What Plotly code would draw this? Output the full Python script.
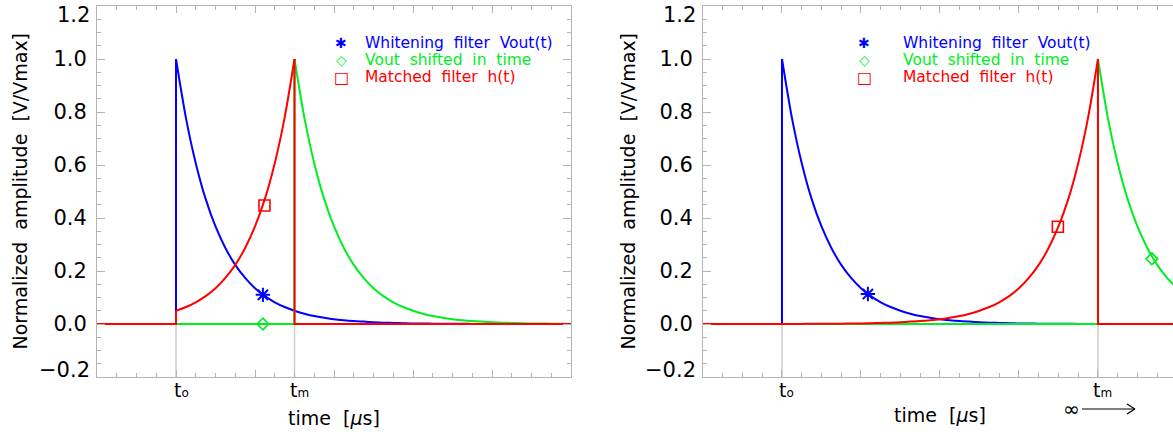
import plotly.graph_objects as go

# ---------------- data ----------------
decay_step = 0.5  # time step of the sampled Vout decay (axis units)
vout_decay = [1.000, 0.779, 0.607, 0.472, 0.368, 0.287, 0.223, 0.174, 0.135, 0.105,
              0.082, 0.064, 0.050, 0.039, 0.030, 0.024, 0.018, 0.014, 0.011, 0.009,
              0.007, 0.005, 0.004, 0.003, 0.002, 0.002, 0.001, 0.001, 0.001, 0.001,
              0.000, 0.000, 0.000, 0.000, 0.000, 0.000, 0.000, 0.000, 0.000, 0.000,
              0.000]
t_start = [0, 0]          # left panel, right panel
t_end = [24, 23.8]
t0 = [4, 4]
tm = [10, 20]
blue_marker_x = [8.40, 8.35]
blue_marker_y = [0.110, 0.113]
green_marker_x = [8.40, 22.73]
green_marker_y = [0.000, 0.246]
red_marker_x = [8.48, 17.97]
red_marker_y = [0.447, 0.367]
y_ticks = [-0.2, 0.0, 0.2, 0.4, 0.6, 0.8, 1.0, 1.2]
y_tick_labels = ["−0.2", "0.0", "0.2", "0.4", "0.6", "0.8", "1.0", "1.2"]
legend_labels = ["Whitening  filter  Vout(t)", "Vout  shifted  in  time", "Matched  filter  h(t)"]
tick_labels = ["t<span style='font-size:12px'>o</span>", "t<span style='font-size:12px'>m</span>"]
x_title = "time  [<i>μ</i>s]"
y_title = "Normalized  amplitude  [V/Vmax]"

# ---------------- style ----------------
BLUE, GREEN, RED = "#0000ff", "#00ee22", "#ff0000"
AX = "#b4b4b4"
FONT = "DejaVu Sans"
LW = 2

W, H = 1173, 434
ML, MR, MT, MB = 97, 0, 6, 57
PW, PH = W - ML - MR, H - MT - MB


def px(xp):
    return (xp - ML) / PW


def py(yp):
    return (H - MB - yp) / PH


fig = go.Figure()
offsets = [k * decay_step for k in range(len(vout_decay))]

for p in range(2):
    xa = "x" if p == 0 else "x2"
    ya = "y" if p == 0 else "y2"
    a, b, s, m = t_start[p], t_end[p], t0[p], tm[p]

    def add(x, y, color, spline=False):
        fig.add_trace(go.Scatter(
            x=x, y=y, mode="lines", xaxis=xa, yaxis=ya, showlegend=False,
            line=dict(color=color, width=LW, shape="spline" if spline else "linear",
                      smoothing=0.8), hoverinfo="skip"))

    # blue: whitening filter output
    add([a, s, s], [0, 0, vout_decay[0]], BLUE)
    xs = [s + o for o in offsets if s + o <= b + decay_step]
    add(xs, vout_decay[:len(xs)], BLUE, True)
    # green: Vout shifted in time
    add([a, m, m], [0, 0, vout_decay[0]], GREEN)
    xs = [m + o for o in offsets if m + o <= b + decay_step]
    add(xs, vout_decay[:len(xs)], GREEN, True)
    # red: matched filter = time-reversed Vout
    n = int(round((m - s) / decay_step))
    add([a, s, s], [0, 0, vout_decay[n]], RED)
    add([m - o for o in offsets[:n + 1]], vout_decay[:n + 1], RED, True)
    add([m, m, b], [vout_decay[0], 0, 0], RED)

    # markers
    fig.add_trace(go.Scatter(x=[blue_marker_x[p]], y=[blue_marker_y[p]], mode="markers",
                             xaxis=xa, yaxis=ya, showlegend=False,
                             marker=dict(symbol="asterisk-open", size=12, color=BLUE,
                                         line=dict(color=BLUE, width=2))))
    fig.add_trace(go.Scatter(x=[green_marker_x[p]], y=[green_marker_y[p]], mode="markers",
                             xaxis=xa, yaxis=ya, showlegend=False,
                             marker=dict(symbol="diamond-open", size=9, color=GREEN,
                                         line=dict(color=GREEN, width=1.6))))
    fig.add_trace(go.Scatter(x=[red_marker_x[p]], y=[red_marker_y[p]], mode="markers",
                             xaxis=xa, yaxis=ya, showlegend=False,
                             marker=dict(symbol="square-open", size=11, color=RED,
                                         line=dict(color=RED, width=1.6))))

    # gray marker lines at t0 and tm below zero
    for xv in (s, m):
        fig.add_shape(type="line", xref=xa, yref=ya, x0=xv, x1=xv, y0=y_ticks[0], y1=0,
                      line=dict(color="#cccccc", width=1.5), layer="below")

axis_common = dict(showline=True, linecolor=AX, linewidth=1, ticks="inside", tickcolor=AX,
                   showgrid=False, zeroline=False)
inner_labels = [""] + y_tick_labels[1:-1] + [""]
yaxis_common = dict(domain=[0, 1], range=[y_ticks[0], y_ticks[-1]], tickvals=y_ticks,
                    ticktext=inner_labels, ticklen=8,
                    tickfont=dict(size=21, family=FONT, color="black"), ticklabelstandoff=5,
                    minor=dict(dtick=0.05, ticklen=4, ticks="inside", tickcolor=AX),
                    **axis_common)
xaxis_common = dict(tick0=0, dtick=4, ticklen=7, showticklabels=False, mirror="allticks",
                    minor=dict(dtick=1, ticklen=4, ticks="inside", tickcolor=AX), **axis_common)

fig.update_layout(
    width=W, height=H, margin=dict(l=ML, r=MR, t=MT, b=MB, pad=0, autoexpand=False),
    paper_bgcolor="white", plot_bgcolor="white",
    font=dict(family=FONT, color="black"),
    xaxis=dict(domain=[0, px(571)], range=[t_start[0], t_end[0]], anchor="y", **xaxis_common),
    yaxis=dict(anchor="x", mirror="allticks", **yaxis_common),
    xaxis2=dict(domain=[px(703), 1], range=[t_start[1], t_end[1]], anchor="y2", **xaxis_common),
    yaxis2=dict(anchor="x2", mirror=False, **yaxis_common),
)

ann = []
for p in range(2):
    xa = "x" if p == 0 else "x2"
    ya = "y" if p == 0 else "y2"
    # end tick labels kept inside the frame
    ann.append(dict(x=0, y=y_ticks[-1], xref=f"{xa} domain", yref=ya, text=y_tick_labels[-1],
                    showarrow=False, xanchor="right", yanchor="middle", xshift=-5, yshift=-9,
                    font=dict(size=21, family=FONT, color="black")))
    ann.append(dict(x=0, y=y_ticks[0], xref=f"{xa} domain", yref=ya, text=y_tick_labels[0],
                    showarrow=False, xanchor="right", yanchor="middle", xshift=-5, yshift=7,
                    font=dict(size=21, family=FONT, color="black")))
    # t0 / tm labels
    for xv, lab in zip((t0[p], tm[p]), tick_labels):
        ann.append(dict(x=xv, y=py(390), xref=xa, yref="paper", text=lab, showarrow=False,
                        xanchor="center", yanchor="middle", xshift=5,
                        font=dict(size=19, family=FONT, color="black")))
    # x title
    ann.append(dict(x=(t_start[p] + 24) / 2, y=py(418 if p == 0 else 415), xref=xa, yref="paper",
                    text=x_title, showarrow=False, xanchor="center", yanchor="middle",
                    font=dict(size=19, family=FONT, color="black")))
    # y title
    ann.append(dict(x=px(19 if p == 0 else 627), y=0.5, xref="paper", yref="paper",
                    text=y_title, textangle=-90, showarrow=False, xanchor="center",
                    yanchor="middle", font=dict(size=19, family=FONT, color="black")))
    # legend
    sx = px(341 if p == 0 else 864)
    tx = px(363 if p == 0 else 901)
    for i, (lab, col, glyph) in enumerate(zip(legend_labels, (BLUE, GREEN, RED),
                                              ("✱", "◇", "□"))):
        yy = py(43 + 17 * i)
        ann.append(dict(x=sx, y=yy, xref="paper", yref="paper", text=glyph, showarrow=False,
                        xanchor="center", yanchor="middle",
                        font=dict(size=14 if i != 2 else 16, family=FONT, color=col)))
        ann.append(dict(x=tx, y=yy, xref="paper", yref="paper", text=lab, showarrow=False,
                        xanchor="left", yanchor="middle",
                        font=dict(size=15.5, family=FONT, color=col)))

# infinity with long arrow (right panel)
ann.append(dict(x=px(1071), y=py(409), xref="paper", yref="paper", text="∞", showarrow=False,
                xanchor="center", yanchor="middle", font=dict(size=20, family=FONT, color="black")))
fig.update_layout(annotations=ann)
for (x0, y0, x1, y1) in [(1082, 409, 1135, 409), (1135, 409, 1127, 404), (1135, 409, 1127, 414)]:
    fig.add_shape(type="line", xref="paper", yref="paper", x0=px(x0), y0=py(y0), x1=px(x1),
                  y1=py(y1), line=dict(color="black", width=1.2))

fig.write_html("out.html", config={"displayModeBar": False},
               post_script="document.body.style.margin='0px';")
